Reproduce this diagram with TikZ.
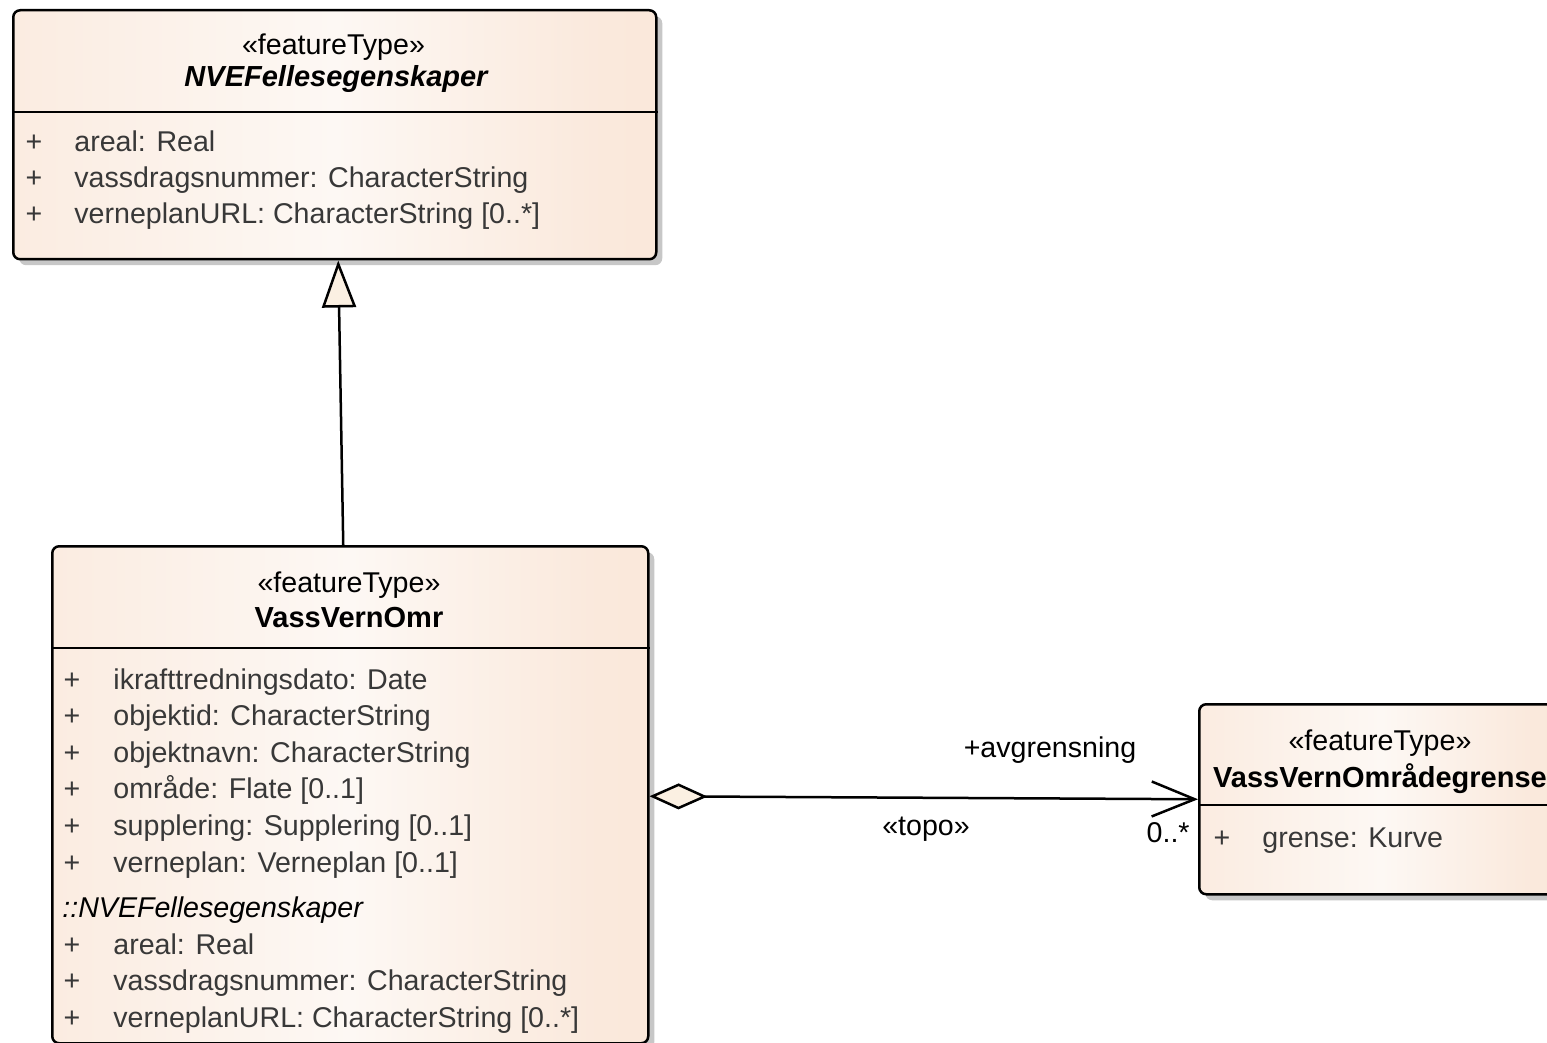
\documentclass[tikz,border=0pt]{standalone}
\usepackage{fontspec}
\setmainfont{Liberation Sans}
\usetikzlibrary{arrows.meta,shadows}
\definecolor{classpeach}{HTML}{F8E0CE}
\definecolor{classlight}{HTML}{FDF8F4}
\definecolor{tipcream}{HTML}{FBF0E2}
\definecolor{attrgray}{HTML}{383838}
\pgfdeclarehorizontalshading{classshade}{100bp}{color(0bp)=(classpeach); color(10bp)=(classpeach!85!white);
  color(50bp)=(classlight); color(70bp)=(classpeach!70!white); color(100bp)=(classpeach)}
\tikzset{
  classbox/.style={draw=black,line width=1.25pt,rounded corners=3.5pt,anchor=north west,inner sep=0pt,
    shading=classshade,
    drop shadow={shadow xshift=3pt,shadow yshift=-3pt,fill=black!22,opacity=1}},
  umltext/.style={font=\fontsize{14.3}{16}\selectfont,inner sep=0pt},
  stereo/.style={umltext,anchor=base},
  classname/.style={umltext,anchor=base,font=\fontsize{14.5}{16}\selectfont\bfseries},
  attr/.style={umltext,text=attrgray,anchor=base west},
  vis/.style={umltext,text=attrgray,anchor=base},
  conn/.style={line width=1.25pt,line join=miter},
}
\begin{document}
\begin{tikzpicture}[x=0.5pt,y=-0.5pt]
    \useasboundingbox (0,0) rectangle (1547,1043);

    \node[classbox,minimum width=321.5pt,minimum height=124.5pt] (nve) at (12,9) {};
    \node[classbox,minimum width=298pt,minimum height=248.5pt] (vvo) at (51,545) {};
    \node[classbox,minimum width=182pt,minimum height=95pt] (grense) at (1198,703) {};

    \draw[line width=1.25pt] (nve.west |- 0,112) -- (nve.east |- 0,112);
    \draw[line width=1.25pt] (vvo.west |- 0,648) -- (vvo.east |- 0,648);
    \draw[line width=1.25pt] (grense.west |- 0,805) -- (grense.east |- 0,805);

    \node[stereo] (nvestereo) at (333.5,55) {«featureType»};
    \node[classname,font=\fontsize{14.5}{16}\selectfont\bfseries\itshape] (nvename) at (336,87) {NVEFellesegenskaper};
    \foreach \txt [count=\i] in {areal: Real, vassdragsnummer: CharacterString, verneplanURL: CharacterString [0..*]} {
        \node[vis] (nveplus\i) at (34,{152+36*(\i-1)}) {+};
        \node[attr] (nveattr\i) at (74,{152+36*(\i-1)}) {\txt};
    }

    \node[stereo] (vvostereo) at (349,592) {«featureType»};
    \node[classname] (vvoname) at (349,627) {VassVernOmr};
    \foreach \txt [count=\i] in {ikrafttredningsdato: Date, objektid: CharacterString, objektnavn: CharacterString,
        område: Flate [0..1], supplering: Supplering [0..1], verneplan: Verneplan [0..1]} {
        \node[vis] (vvoplus\i) at (72,{689+36.6*(\i-1)}) {+};
        \node[attr] (vvoattr\i) at (113,{689+36.6*(\i-1)}) {\txt};
    }
    \node[attr,text=black,font=\fontsize{14.3}{16}\selectfont\itshape] (vvoinherit) at (62,917) {::NVEFellesegenskaper};
    \foreach \txt [count=\i] in {areal: Real, vassdragsnummer: CharacterString, verneplanURL: CharacterString [0..*]} {
        \node[vis] (vvoplusb\i) at (72,{954+36.6*(\i-1)}) {+};
        \node[attr] (vvoattrb\i) at (113,{954+36.6*(\i-1)}) {\txt};
    }

    \node[stereo] (grensestereo) at (1380,750) {«featureType»};
    \node[classname] (grensename) at (1380,787) {VassVernOmrådegrense};
    \node[vis] (grenseplus) at (1222,847) {+};
    \node[attr] (grenseattr) at (1262,847) {grense: Kurve};

    \draw[conn,-{Triangle[length=23.5pt,width=17pt,fill=tipcream]}] ([xshift=-3.5pt]vvo.north) -- ([xshift=1.75pt]nve.south);
    \draw[conn,{Diamond[length=29pt,width=13pt,fill=tipcream]}-{Straight Barb[length=21.5pt,width=17.5pt]}]
        ([yshift=-0.75pt]vvo.east) -- (grense.west);

    \node[stereo] (rolename) at (1050,757) {+avgrensning};
    \node[stereo] (topolabel) at (926,835) {«topo»};
    \node[umltext,anchor=base east] (multlabel) at (1190,842) {0..*};
\end{tikzpicture}
\end{document}
